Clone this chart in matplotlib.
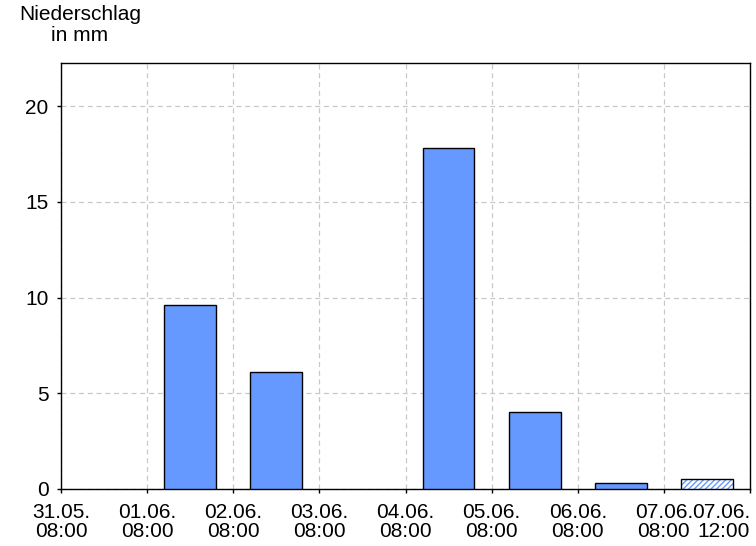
import matplotlib
matplotlib.use("Agg")
import matplotlib.pyplot as plt
import numpy as np

plt.rcParams['font.family'] = ['Liberation Sans', 'DejaVu Sans']

tick_labels = ["31.05.\n08:00", "01.06.\n08:00", "02.06.\n08:00", "03.06.\n08:00",
               "04.06.\n08:00", "05.06.\n08:00", "06.06.\n08:00", "07.06.\n08:00", "07.06.\n12:00"]
values = [0.0, 9.6, 6.1, 0.0, 17.8, 4.0, 0.3]
forecast_values = [0.5]
yticks = [0, 5, 10, 15, 20]

fig = plt.figure(figsize=(7.56, 5.46), dpi=100)
ax = fig.add_axes([61/756, 57/546, 689/756, 426/546])

bar_color = '#6699FF'
vals = np.array(values)
xs = np.arange(len(values)) + 0.5
mask = vals > 0
ax.bar(xs[mask], vals[mask], width=0.6, color=bar_color, edgecolor='black', linewidth=1.0, zorder=3)
xf = np.arange(len(values), len(values) + len(forecast_values)) + 0.5
ax.bar(xf, forecast_values, width=0.6, color='white', edgecolor=bar_color, hatch='//////', linewidth=0, zorder=3)
ax.bar(xf, forecast_values, width=0.6, fill=False, edgecolor='black', linewidth=1.0, zorder=4)

ax.set_xlim(0, 8)
ax.set_ylim(0, 22.25)
ax.set_xticks(np.arange(len(tick_labels)))
lbls = ax.set_xticklabels(tick_labels, fontsize=15, linespacing=1.02)
# last label is pulled inside the figure (right aligned at the axis end)
lbls[-1].set_horizontalalignment('right')
ax.set_yticks(yticks)
ax.set_yticklabels([str(v) for v in yticks], fontsize=15)
ax.tick_params(axis='both', direction='out', length=3, width=1, color='black')
ax.tick_params(axis='x', pad=7)
ax.tick_params(axis='y', pad=6)
ax.grid(True, color='#c8c8c8', linestyle=(0, (4, 3)), linewidth=0.9, zorder=0)
for s in ax.spines.values():
    s.set_linewidth(1.0)

fig.text(80/756, 1 - 5/546, "Niederschlag\nin mm", ha='center', va='top', fontsize=15, linespacing=1.12)

fig.savefig("out.png", dpi=100)
